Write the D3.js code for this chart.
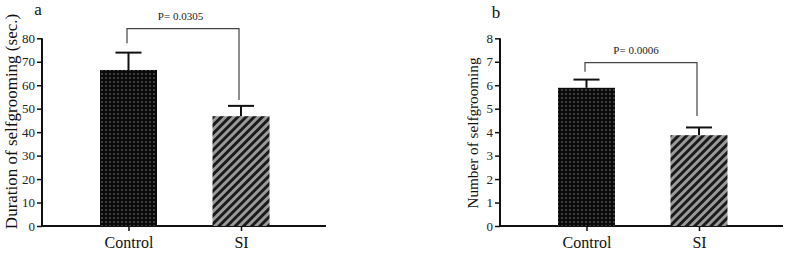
<!DOCTYPE html>
<html>
<head>
<meta charset="utf-8">
<script src="https://cdn.jsdelivr.net/npm/d3@7"></script>
<style>
  body { margin: 0; background: #fff; }
  svg text { font-family: "Liberation Serif", "DejaVu Serif", serif !important; }
</style>
</head>
<body>
<div id="chart"></div>
<script>
;(function () {

    var width = 792
        , height = 254;

    var categories = ['Control', 'SI'];

    // panel a: duration (sec.)
    var durationMean = [66.5, 46.8];
    var durationErr = [7.4, 4.4];
    var durationTicks = [0, 10, 20, 30, 40, 50, 60, 70, 80];

    // panel b: count
    var countMean = [5.89, 3.87];
    var countErr = [0.35, 0.33];
    var countTicks = [0, 1, 2, 3, 4, 5, 6, 7, 8];

    var panels = [
        { letter: 'a', label: 'Duration of selfgrooming (sec.)', mean: durationMean, err: durationErr,
          ticks: durationTicks, max: 80, p: 'P= 0.0305', x0: 42, x1: 326,
          labelX: 17, labelY: 121.5, labelSize: 17, letterY: 15, pShift: -2.5,
          bracketY: 28.7, bracketDrop: [43.3, 100] },
        { letter: 'b', label: 'Number of selfgrooming', mean: countMean, err: countErr,
          ticks: countTicks, max: 8, p: 'P= 0.0006', x0: 500, x1: 783,
          labelX: 478, labelY: 133, labelSize: 15.2, letterY: 18, pShift: -5,
          bracketY: 62.7, bracketDrop: [71.7, 116] }
    ];

    var svg = d3.select('#chart').append('svg')
        .attr('width', width)
        .attr('height', height);

    var defs = svg.append('defs');

    // black with white dots
    var dots = defs.append('pattern')
        .attr('id', 'dots')
        .attr('patternUnits', 'userSpaceOnUse')
        .attr('width', 4)
        .attr('height', 4);
    dots.append('rect').attr('width', 4).attr('height', 4).attr('fill', '#0a0a0a');
    dots.append('rect').attr('x', 1.5).attr('y', 1.5).attr('width', 1).attr('height', 1).attr('fill', '#d8d8d8');

    // grey with black diagonal stripes
    var stripes = defs.append('pattern')
        .attr('id', 'stripes')
        .attr('patternUnits', 'userSpaceOnUse')
        .attr('width', 5.8)
        .attr('height', 6)
        .attr('patternTransform', 'rotate(45)');
    stripes.append('rect').attr('width', 5.8).attr('height', 6).attr('fill', '#9a9a9a');
    stripes.append('rect').attr('width', 2.9).attr('height', 6).attr('fill', '#1a1a1a');

    var fills = ['url(#dots)', 'url(#stripes)'];

    var top = 38.3, bottom = 226;

    panels.forEach(function (pn) {
        var g = svg.append('g');

        var y = d3.scaleLinear()
            .domain([0, pn.max])
            .range([bottom, top]);

        var barW = 57;
        var x = d3.scalePoint()
            .domain(categories)
            .range([pn.x0 + 86.5, pn.x0 + 199]);

        var yAxis = d3.axisLeft(y)
            .tickValues(pn.ticks)
            .tickSize(5)
            .tickPadding(2);

        var ya = g.append('g')
            .attr('transform', 'translate(' + pn.x0 + ',0)')
            .call(yAxis)
            .attr('font-family', null);
        ya.select('.domain').attr('stroke', '#111').attr('stroke-width', 2)
            .attr('d', 'M0,' + top + 'V' + bottom);
        ya.selectAll('.tick line').attr('stroke', '#111').attr('stroke-width', 1.5);
        ya.selectAll('.tick text')
            .attr('font-size', 13)
            .attr('fill', '#222');

        // x axis
        var xAxis = d3.axisBottom(x)
            .tickSize(5)
            .tickPadding(6);
        var xa = g.append('g')
            .attr('transform', 'translate(0,' + bottom + ')')
            .call(xAxis)
            .attr('font-family', null);
        xa.select('.domain').attr('stroke', '#111').attr('stroke-width', 2)
            .attr('d', 'M' + (pn.x0 - 1) + ',0H' + pn.x1);
        xa.selectAll('.tick line').attr('stroke', '#111').attr('stroke-width', 1.5);
        xa.selectAll('.tick text')
            .attr('font-size', 16)
            .attr('fill', '#111');

        categories.forEach(function (c, i) {
            var cx = x(c);

            // error bar (upper only)
            g.append('line')
                .attr('x1', cx).attr('x2', cx)
                .attr('y1', y(pn.mean[i])).attr('y2', y(pn.mean[i] + pn.err[i]))
                .attr('stroke', '#111').attr('stroke-width', 2);
            g.append('line')
                .attr('x1', cx - 13).attr('x2', cx + 13)
                .attr('y1', y(pn.mean[i] + pn.err[i])).attr('y2', y(pn.mean[i] + pn.err[i]))
                .attr('stroke', '#111').attr('stroke-width', 2);

            g.append('rect')
                .attr('x', cx - barW / 2)
                .attr('y', y(pn.mean[i]))
                .attr('width', barW)
                .attr('height', bottom - y(pn.mean[i]))
                .attr('fill', fills[i]);
        });

        // significance bracket
        var bx0 = x(categories[0]) - 1.5, bx1 = x(categories[1]) - 2;
        g.append('path')
            .attr('d', 'M' + bx0 + ',' + pn.bracketDrop[0] + 'V' + pn.bracketY + 'H' + bx1 + 'V' + pn.bracketDrop[1])
            .attr('fill', 'none')
            .attr('stroke', '#444')
            .attr('stroke-width', 1.2);

        g.append('text')
            .attr('x', (bx0 + bx1) / 2 + pn.pShift)
            .attr('y', pn.bracketY - 9)
            .attr('text-anchor', 'middle')
            .attr('font-size', 11)
            .attr('fill', '#222')
            .text(pn.p);

        g.append('text')
            .attr('x', pn.x0 - 4)
            .attr('y', pn.letterY)
            .attr('text-anchor', 'middle')
            .attr('font-size', 17)
            .attr('fill', '#111')
            .text(pn.letter);

        g.append('text')
            .attr('transform', 'translate(' + pn.labelX + ',' + pn.labelY + ') rotate(-90)')
            .attr('text-anchor', 'middle')
            .attr('font-size', pn.labelSize)
            .attr('fill', '#111')
            .text(pn.label);
    });

}());
</script>
</body>
</html>
